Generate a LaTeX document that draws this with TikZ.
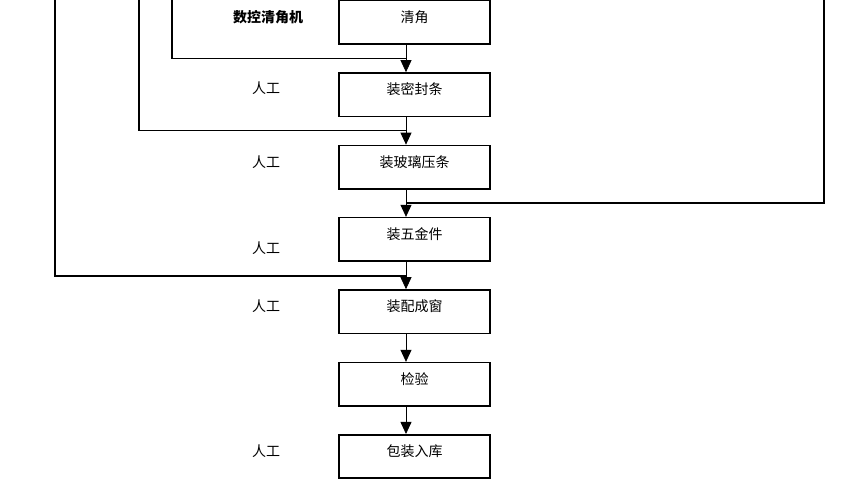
\documentclass[tikz,border=0pt]{standalone}
\usepackage{fontspec}
\setmainfont{Noto Sans CJK SC}
\usetikzlibrary{arrows.meta}
\begin{document}
\begin{tikzpicture}[x=1pt, y=-1pt]
\tikzstyle{every node}=[inner sep=0pt, font=\fontsize{14}{16}\selectfont]
\tikzstyle{procbox}=[draw, line width=1.6pt, minimum width=151pt,
                     minimum height=43.5pt, text height=0.5em, text depth=0.5em]
\tikzstyle{flow}=[line width=0.8pt, -{Triangle[width=11pt,length=12pt]}]
\tikzstyle{back}=[line width=1.6pt]
\useasboundingbox (0,0) rectangle (841,486);
\node[procbox] (Q) at (414.5,22.4) {清角};
\node[procbox] (M) at (414.5,94.7) {装密封条};
\node[procbox] (G) at (414.5,167.2) {装玻璃压条};
\node[procbox] (W) at (414.5,239.4) {装五金件};
\node[procbox] (P) at (414.5,311.7) {装配成窗};
\node[procbox] (J) at (414.5,384.4) {检验};
\node[procbox] (K) at (414.5,456.5) {包装入库};
\node (L0) at (268,17.5) {\bfseries 数控清角机};
\node (L1) at (266,88.3) {人工};
\node (L2) at (266,162) {人工};
\node (L3) at (266,248) {人工};
\node (L4) at (266,306.3) {人工};
\node (L5) at (266,451.5) {人工};
\coordinate (j1) at (406,58.7);
\coordinate (j2) at (406,130.7);
\coordinate (j3) at (406,203);
\coordinate (j4) at (406,276);
\coordinate (t1) at (172,0);
\coordinate (t2) at (139,0);
\coordinate (t3) at (824,0);
\coordinate (t4) at (55,0);
\draw[back] (t1) |- (j1);
\draw[back] (t2) |- (j2);
\draw[back] (t3) |- (j3);
\draw[back] (t4) |- (j4);
\draw[flow] (Q.south -| j1) -- (M.north -| j1);
\draw[flow] (M.south -| j1) -- (G.north -| j1);
\draw[flow] (G.south -| j1) -- (W.north -| j1);
\draw[flow] (W.south -| j1) -- (P.north -| j1);
\draw[flow] (P.south -| j1) -- (J.north -| j1);
\draw[flow] (J.south -| j1) -- (K.north -| j1);
\end{tikzpicture}
\end{document}
